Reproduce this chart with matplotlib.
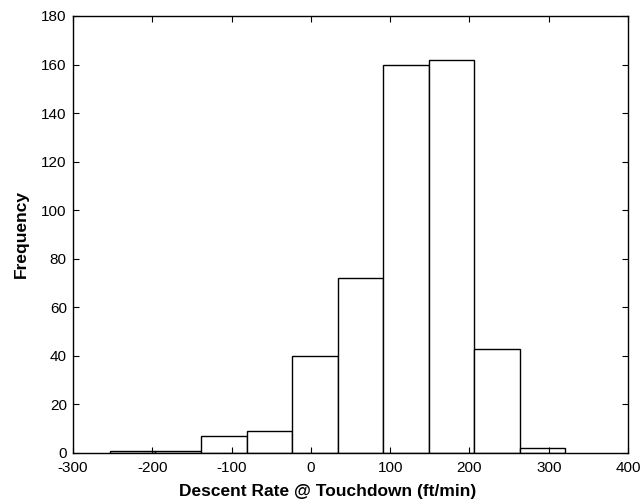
import matplotlib
matplotlib.use("Agg")
import matplotlib.pyplot as plt
import numpy as np

# Histogram bins
bin_edges = [-253.3, -196.0, -138.6, -81.2, -23.8, 33.6, 91.0, 148.4, 205.8, 263.2, 320.6]
counts = [1, 1, 7, 9, 40, 72, 160, 162, 43, 2]

plt.rcParams['font.family'] = ['Liberation Sans', 'DejaVu Sans']
plt.rcParams['axes.unicode_minus'] = False

fig = plt.figure(figsize=(6.44, 5.00), dpi=100)
ax = fig.add_axes([0.1134, 0.094, 0.8618, 0.874])

edges = np.array(bin_edges)
ax.bar(edges[:-1], counts, width=np.diff(edges), align='edge',
       facecolor='white', edgecolor='black', linewidth=1.0)

ax.set_xlim(-300, 400)
ax.set_ylim(0, 180)
ax.set_xticks(np.arange(-300, 401, 100))
ax.set_yticks(np.arange(0, 181, 20))
ax.tick_params(direction='in', top=True, right=True, length=4.5, width=0.8,
               labelsize=11)
ax.tick_params(axis='x', pad=6)
ax.tick_params(axis='y', pad=4.5)
for s in ax.spines.values():
    s.set_linewidth(1.0)
ax.set_axisbelow(False)

ax.set_xlabel("Descent Rate @ Touchdown (ft/min)", fontsize=12.5, fontweight='bold')
ax.set_ylabel("Frequency", fontsize=12.5, fontweight='bold', labelpad=9)
# label in the original sits a bit left of the axes centre
ax.xaxis.set_label_coords(0.458, -0.072)

fig.savefig("out.png", dpi=100)
